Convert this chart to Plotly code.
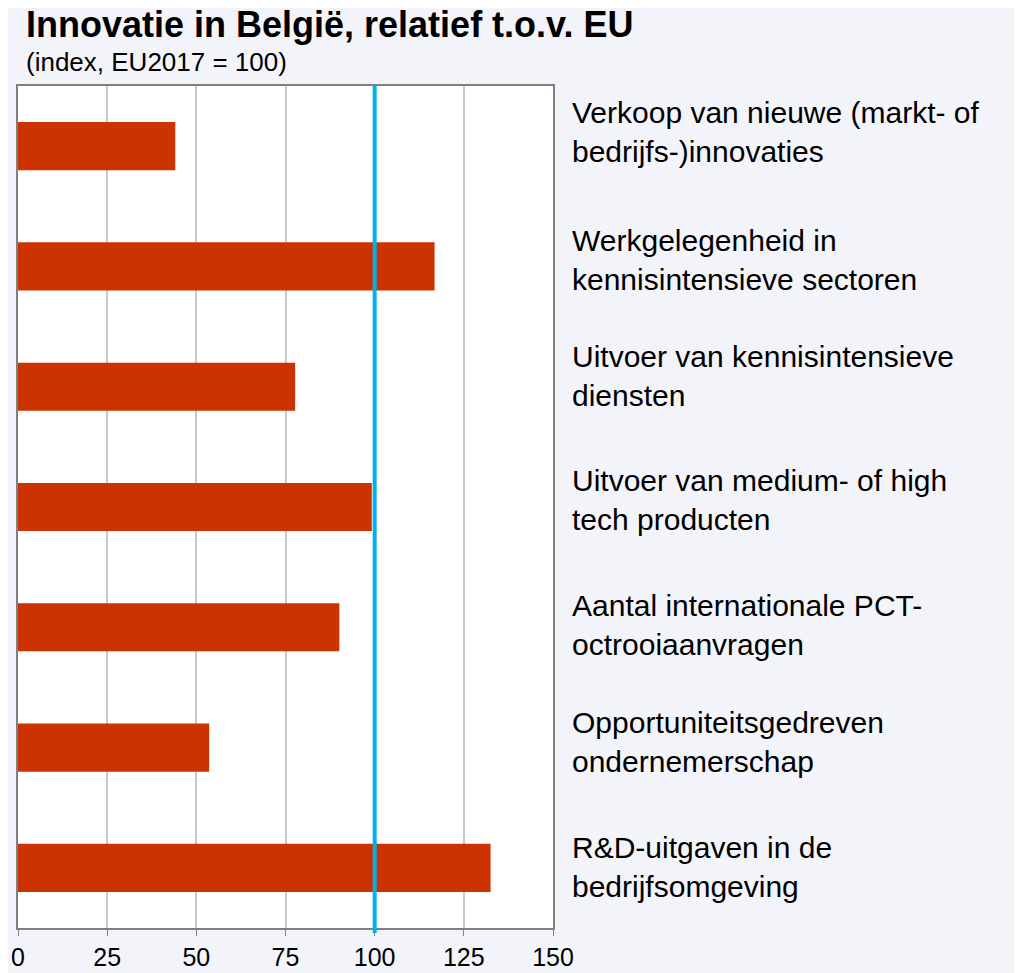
"""Innovation chart — Belgium relative to the EU (index, EU2017 = 100).

Builds a horizontal Plotly bar chart with the indicator labels on the right
and a reference line at the EU level.
"""

import plotly.graph_objects as go

# --------------------------------------------------------------------------- #
# Data — index values per indicator (top to bottom)
# --------------------------------------------------------------------------- #

INDICATORS = {
    "Verkoop van nieuwe (markt- of<br>bedrijfs-)innovaties": 44.1,
    "Werkgelegenheid in<br>kennisintensieve sectoren": 116.8,
    "Uitvoer van kennisintensieve<br>diensten": 77.7,
    "Uitvoer van medium- of high<br>tech producten": 99.2,
    "Aantal internationale PCT-<br>octrooiaanvragen": 90.1,
    "Opportuniteitsgedreven<br>ondernemerschap": 53.6,
    "R&D-uitgaven in de<br>bedrijfsomgeving": 132.5,
}
LABEL_SHIFT = [14, 6, 11, 7, 2, 6, 1]  # label boxes sit a bit above the bars (px)

EU_LEVEL = 100


def build_innovation_chart() -> go.Figure:
    """Horizontal bars per indicator with the EU reference line at 100."""
    labels = list(INDICATORS.keys())
    values = list(INDICATORS.values())

    fig = go.Figure()
    fig.add_trace(
        go.Bar(
            x=values,
            y=labels,
            orientation="h",
            width=0.4,
            marker_color="#CC3300",
            marker_line_width=0,
        )
    )

    # EU reference line (index = 100)
    fig.add_shape(
        type="line",
        xref="x",
        yref="paper",
        x0=EU_LEVEL,
        x1=EU_LEVEL,
        y0=-0.006,
        y1=1,
        line=dict(color="#00B0F0", width=4),
    )

    # Indicator labels, left aligned to the right of the plot
    for label, shift in zip(labels, LABEL_SHIFT):
        fig.add_annotation(
            text=label,
            xref="paper", yref="y", x=1, y=label,
            xanchor="left", yanchor="middle", align="left",
            xshift=17, yshift=shift, showarrow=False,
            font=dict(size=30, color="black"),
        )

    # Title + subtitle, left aligned above the plot
    fig.add_annotation(
        text="<b>Innovatie in België, relatief t.o.v. EU</b>",
        xref="paper", yref="paper", x=0.011, y=1.0736,
        xanchor="left", yanchor="middle", showarrow=False,
        font=dict(size=36, color="black"),
    )
    fig.add_annotation(
        text="(index, EU2017 = 100)",
        xref="paper", yref="paper", x=0.011, y=1.0285,
        xanchor="left", yanchor="middle", showarrow=False,
        font=dict(size=26, color="black"),
    )

    fig.update_layout(
        width=1014,
        height=965,
        margin=dict(l=10, r=469, t=78, b=45),
        paper_bgcolor="#F2F4F9",
        plot_bgcolor="white",
        font=dict(family="Liberation Sans, Arial, sans-serif", color="black"),
        showlegend=False,
    )
    fig.update_xaxes(
        range=[0, 150],
        tickvals=[0, 25, 50, 75, 100, 125, 150],
        showgrid=True,
        gridcolor="#C8C8C8",
        gridwidth=1.5,
        showline=True,
        linecolor="#808080",
        linewidth=1.5,
        mirror=True,
        ticks="outside",
        ticklen=6,
        tickcolor="#808080",
        tickfont=dict(size=25),
        zeroline=False,
        automargin=False,
    )
    fig.update_yaxes(
        autorange="reversed",
        showgrid=False,
        showline=True,
        linecolor="#808080",
        linewidth=1.5,
        mirror=True,
        ticks="",
        showticklabels=False,
        automargin=False,
    )
    return fig


fig = build_innovation_chart()
fig.write_html("out.html")
